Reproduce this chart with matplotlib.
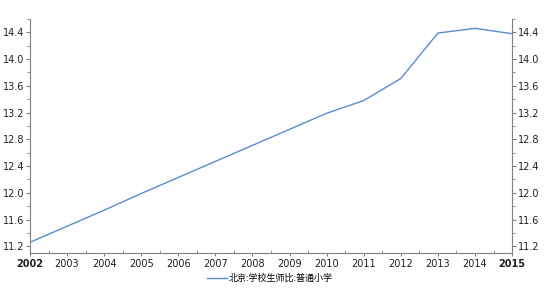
import matplotlib
matplotlib.use("Agg")
import matplotlib.pyplot as plt
from matplotlib.ticker import MultipleLocator

plt.rcParams['font.family'] = ['Noto Sans CJK SC', 'DejaVu Sans']

years = [2002, 2003, 2004, 2005, 2006, 2007, 2008, 2009, 2010, 2011, 2012, 2013, 2014, 2015]
ratio = [11.26, 11.50, 11.74, 11.99, 12.23, 12.47, 12.71, 12.95, 13.19, 13.38, 13.71, 14.39, 14.46, 14.38]
label = "北京:学校生师比:普通小学"

fig = plt.figure(figsize=(5.5, 2.91), dpi=100)
ax = fig.add_axes([0.0545, 0.1306, 0.8765, 0.8041])
ax.plot(years, ratio, color='#5b8bd0', lw=1.0, label=label)

ax.set_xlim(2002, 2015)
ax.set_ylim(11.1, 14.6)
ax.set_xticks(years)
ax.xaxis.set_minor_locator(MultipleLocator(0.5))
ax.yaxis.set_major_locator(MultipleLocator(0.4))
ax.yaxis.set_minor_locator(MultipleLocator(0.2))
ax.yaxis.set_major_formatter(plt.FuncFormatter(lambda v, p: f"{v:.1f}"))

# ticks on both sides for y, small inner minor ticks for x
ax.tick_params(axis='y', which='both', labelsize=7, colors='#808080', labelcolor='#202020',
               left=True, right=True, labelleft=True, labelright=True, direction='out', pad=1)
ax.tick_params(axis='y', which='major', length=3)
ax.tick_params(axis='y', which='minor', length=2)
ax.tick_params(axis='x', which='major', labelsize=7, colors='#808080', labelcolor='#202020',
               direction='out', length=2, pad=2)
ax.tick_params(axis='x', which='minor', direction='in', length=2, colors='#808080')

# numbers in DejaVu (wider), first/last year bold
for tk in ax.yaxis.get_major_ticks() + ax.xaxis.get_major_ticks():
    tk.label1.set_family('DejaVu Sans')
    tk.label2.set_family('DejaVu Sans')
for t in ax.get_xticklabels():
    if t.get_text() in ('2002', '2015'):
        t.set_fontweight('bold')

for s in ['left', 'right', 'bottom']:
    ax.spines[s].set_color('#808080')
ax.spines['top'].set_visible(False)

fig.legend(loc='lower center', bbox_to_anchor=(0.49, 0.0), frameon=False, fontsize=6.5,
           handlelength=2.2, handletextpad=0.2)

fig.savefig('out.png', dpi=100)
